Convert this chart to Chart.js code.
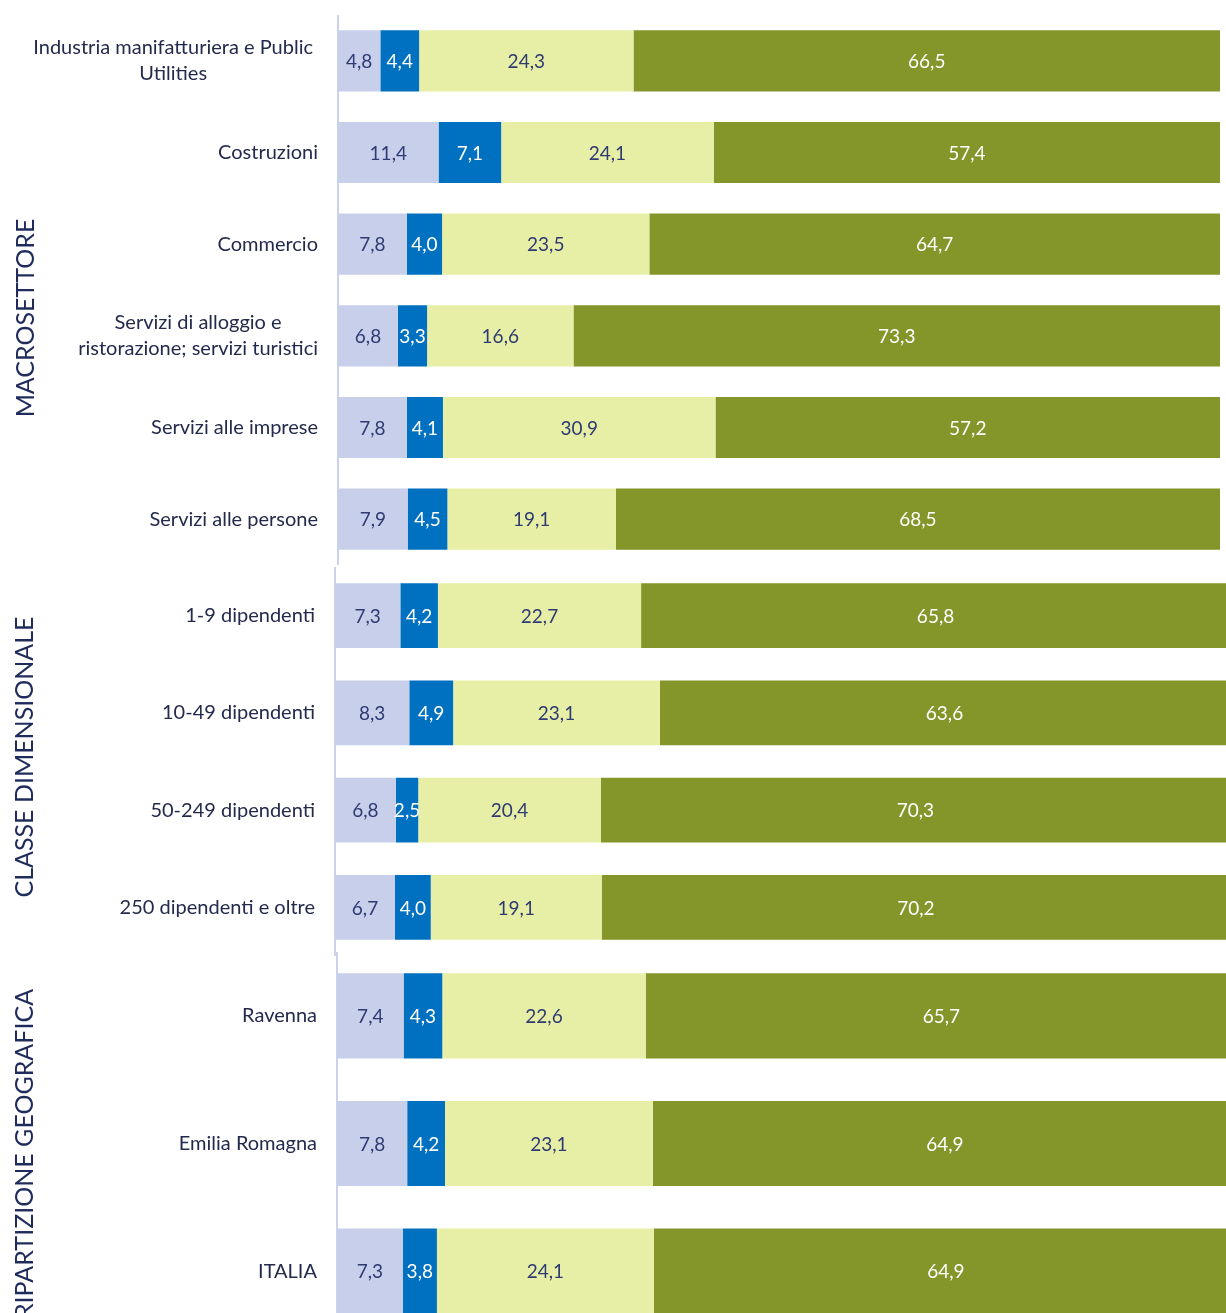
<!DOCTYPE html>
<html>
<head>
<meta charset="utf-8">
<script src="https://cdn.jsdelivr.net/npm/chart.js@4"></script>
<style>
  html, body { margin: 0; padding: 0; background: #fff; width: 1226px; height: 1313px; overflow: hidden; }
  .panel { position: absolute; left: 0; }
  .group {
    position: absolute;
    font-family: Lato, sans-serif;
    font-size: 25px;
    color: #1f2b5b;
    white-space: nowrap;
    transform: translate(-50%, -50%) rotate(-90deg);
  }
</style>
</head>
<body>
<canvas id="p1" class="panel"></canvas>
<canvas id="p2" class="panel"></canvas>
<canvas id="p3" class="panel"></canvas>
<div class="group" style="left:24px; top:318px;">MACROSETTORE</div>
<div class="group" style="left:23px; top:757px;">CLASSE DIMENSIONALE</div>
<div class="group" style="left:23px; top:1154px;">RIPARTIZIONE GEOGRAFICA</div>
<script>
// macrosettore
const sectorLabels = [
  ['Industria manifatturiera e Public', 'Utilities'],
  'Costruzioni',
  'Commercio',
  ['Servizi di alloggio e', 'ristorazione; servizi turistici'],
  'Servizi alle imprese',
  'Servizi alle persone'
];
const sectorA = [4.8, 11.4, 7.8, 6.8, 7.8, 7.9];
const sectorB = [4.4, 7.1, 4.0, 3.3, 4.1, 4.5];
const sectorC = [24.3, 24.1, 23.5, 16.6, 30.9, 19.1];
const sectorD = [66.5, 57.4, 64.7, 73.3, 57.2, 68.5];

// classe dimensionale
const sizeLabels = ['1-9 dipendenti', '10-49 dipendenti', '50-249 dipendenti', '250 dipendenti e oltre'];
const sizeA = [7.3, 8.3, 6.8, 6.7];
const sizeB = [4.2, 4.9, 2.5, 4.0];
const sizeC = [22.7, 23.1, 20.4, 19.1];
const sizeD = [65.8, 63.6, 70.3, 70.2];

// ripartizione geografica
const areaLabels = ['Ravenna', 'Emilia Romagna', 'ITALIA'];
const areaA = [7.4, 7.8, 7.3];
const areaB = [4.3, 4.2, 3.8];
const areaC = [22.6, 23.1, 24.1];
const areaD = [65.7, 64.9, 64.9];

const COLORS = ['#c8cfea', '#0070c0', '#e7efa6', '#84952a'];
const TEXT_COLORS = ['#2e3a72', '#ffffff', '#2e3a72', '#ffffff'];
const FONT = 'Lato, sans-serif';

// category labels: block right aligned to the axis, lines centered in the block
const catLabels = {
  id: 'catLabels',
  afterDraw(chart) {
    const { ctx } = chart;
    const y = chart.scales.y;
    const right = chart.chartArea.left - 20;
    ctx.save();
    ctx.font = '20px ' + FONT;
    ctx.fillStyle = '#232a4c';
    ctx.textAlign = 'center';
    ctx.textBaseline = 'middle';
    chart.data.labels.forEach((lab, i) => {
      const lines = Array.isArray(lab) ? lab : [lab];
      const w = Math.max(...lines.map(l => ctx.measureText(l).width));
      // wrapped labels sit a little further from the axis
      const cx = right - (lines.length > 1 && w > 250 ? 5 : 0) - w / 2;
      const cy = y.getPixelForValue(i);
      const lh = 26;
      lines.forEach((l, j) => {
        ctx.fillText(l, cx, cy + (j - (lines.length - 1) / 2) * lh);
      });
    });
    ctx.restore();
  }
};

const valueLabels = {
  id: 'valueLabels',
  afterDatasetsDraw(chart) {
    const { ctx } = chart;
    ctx.save();
    ctx.font = '19px ' + FONT;
    ctx.textAlign = 'center';
    ctx.textBaseline = 'middle';
    chart.data.datasets.forEach((ds, di) => {
      const meta = chart.getDatasetMeta(di);
      ctx.fillStyle = TEXT_COLORS[di];
      meta.data.forEach((el, i) => {
        const v = ds.data[i];
        ctx.fillText(v.toFixed(1).replace('.', ','), (el.x + el.base) / 2, el.y + 1);
      });
    });
    ctx.restore();
  }
};

function makePanel(id, top, axisX, barsWidth, height, labels, series) {
  const canvas = document.getElementById(id);
  canvas.style.top = top + 'px';
  canvas.width = axisX + barsWidth;
  canvas.height = height;
  canvas.style.width = canvas.width + 'px';
  canvas.style.height = height + 'px';
  new Chart(canvas.getContext('2d'), {
    type: 'bar',
    data: {
      labels: labels,
      datasets: series.map((s, i) => ({
        label: 'S' + i,
        data: s,
        backgroundColor: COLORS[i],
        borderWidth: 0,
        barPercentage: 0.667,
        categoryPercentage: 1
      }))
    },
    options: {
      indexAxis: 'y',
      responsive: false,
      animation: false,
      layout: { padding: 0 },
      scales: {
        x: { stacked: true, min: 0, max: 100, display: false },
        y: {
          stacked: true,
          grid: { display: false },
          ticks: { display: false },
          border: { display: true, color: '#cdd2ec', width: 2 },
          afterFit: (scale) => { scale.width = axisX; }
        }
      },
      plugins: {
        legend: { display: false },
        tooltip: { enabled: false }
      }
    },
    plugins: [catLabels, valueLabels]
  });
}

makePanel('p1', 15, 338, 882, 550, sectorLabels, [sectorA, sectorB, sectorC, sectorD]);
makePanel('p2', 567, 335, 895, 389, sizeLabels, [sizeA, sizeB, sizeC, sizeD]);
makePanel('p3', 952, 337, 900, 383, areaLabels, [areaA, areaB, areaC, areaD]);
</script>
</body>
</html>
